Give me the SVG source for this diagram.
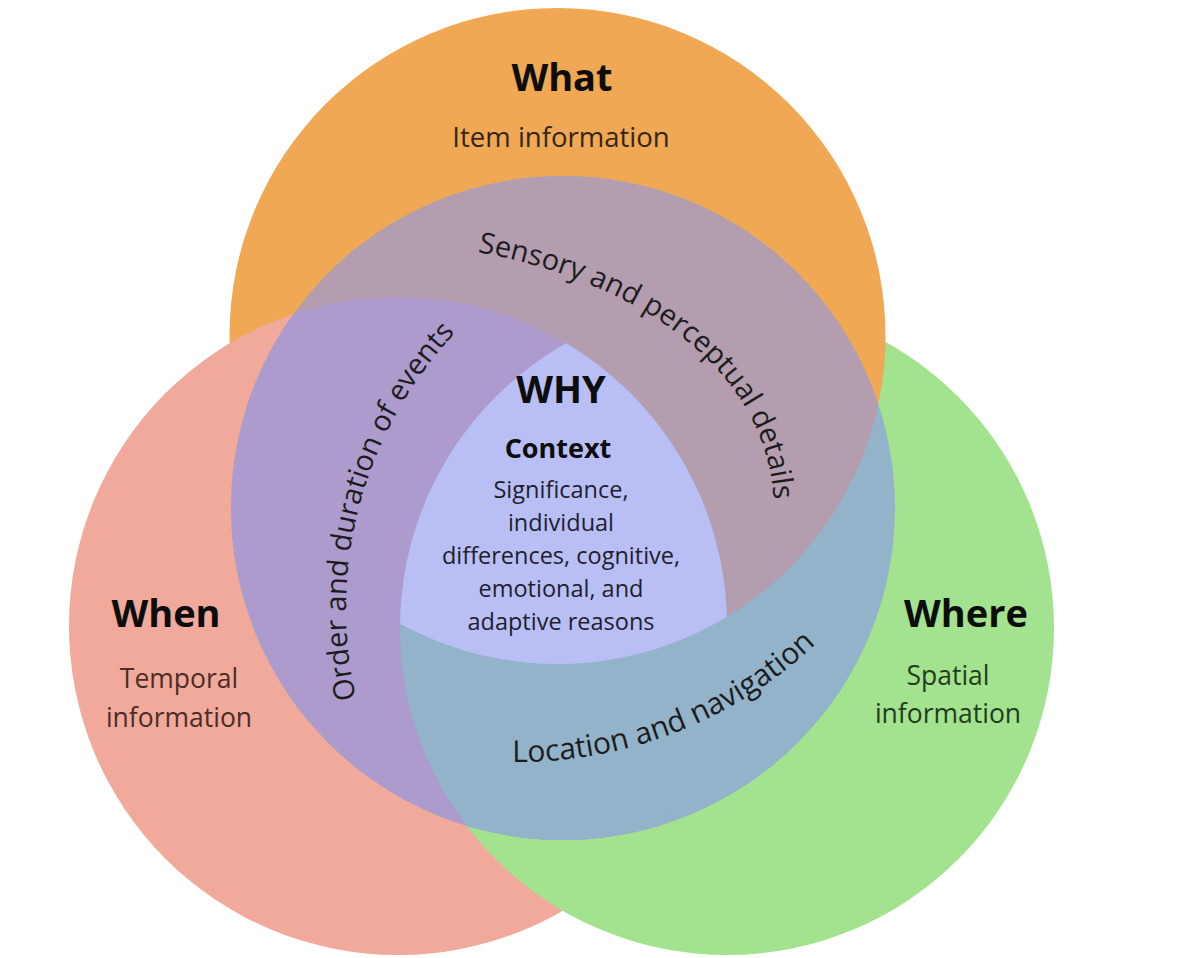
<svg xmlns="http://www.w3.org/2000/svg" xmlns:xlink="http://www.w3.org/1999/xlink" width="1200" height="958" viewBox="0 0 1200 958">
  <defs>
    <style>
      text { font-family: "Open Sans", "Noto Sans", "Liberation Sans", sans-serif; }
      .title { font-weight: 700; font-size: 38px; fill: #0d0d0d; text-anchor: middle; }
      .sub { font-size: 26.5px; text-anchor: middle; }
      .arc { font-size: 29px; fill: #1c1c1c; text-anchor: middle; }
      .ctx { font-size: 23.5px; fill: #1e1e2c; text-anchor: middle; }
      .what { fill: #F0A854; }
      .when { fill: #F0A99B; }
      .where { fill: #A3E28F; }
      .mauve { fill: #B39DAF; }
      .purple { fill: #AE9BCE; }
      .blue { fill: #92B3C9; }
      .whyfill { fill: #B9BEF5; }
    </style>
    <clipPath id="clipM"><circle cx="563" cy="508" r="332"/></clipPath>
    <clipPath id="clipP"><circle cx="398" cy="626" r="329"/></clipPath>
    <clipPath id="clipG"><circle cx="727" cy="628" r="327"/></clipPath>
    <path id="pSensory" d="M463,249 L483,253 C641,283.7 760,368 773,490 L777,530" fill="none"/>
    <path id="pOrder" d="M370.4,747.2 A404,404 0 0 1 490.3,299.5" fill="none"/>
    <path id="pLocation" d="M442.5,755.4 A435,435 0 0 0 860.8,594.8" fill="none"/>
  </defs>

  <rect x="0" y="0" width="1200" height="958" fill="#ffffff"/>

  <g id="where-circle">
    <circle class="where" cx="727" cy="628" r="327"/>
  </g>
  <g id="what-circle">
    <circle class="what" cx="557.5" cy="336" r="328"/>
  </g>
  <g id="when-circle">
    <circle class="when" cx="398" cy="626" r="329"/>
  </g>
  <g id="when-where-overlap" clip-path="url(#clipP)">
    <circle class="where" cx="727" cy="628" r="327"/>
  </g>

  <g id="middle-ring">
    <circle class="blue" cx="563" cy="508" r="332"/>
    <g clip-path="url(#clipM)">
      <circle class="mauve" cx="557.5" cy="336" r="328"/>
      <circle class="purple" cx="398" cy="626" r="329"/>
      <g clip-path="url(#clipP)">
        <circle class="blue" cx="727" cy="628" r="327"/>
      </g>
    </g>
  </g>

  <g id="why-center">
    <g clip-path="url(#clipP)">
      <g clip-path="url(#clipG)">
        <circle class="whyfill" cx="557.5" cy="336" r="328"/>
      </g>
    </g>
  </g>

  <g id="label-what">
    <text class="title" x="562" y="91">What</text>
    <text class="sub" x="561" y="146.5" style="font-size:27.5px" fill="#33261a">Item information</text>
  </g>
  <g id="label-when">
    <text class="title" x="166" y="627">When</text>
    <text class="sub" x="179" y="688" fill="#4b2d28">Temporal</text>
    <text class="sub" x="179" y="727" fill="#4b2d28">information</text>
  </g>
  <g id="label-where">
    <text class="title" x="966" y="627">Where</text>
    <text class="sub" x="948" y="685" fill="#223d1c">Spatial</text>
    <text class="sub" x="948" y="723" fill="#223d1c">information</text>
  </g>

  <g id="label-sensory">
    <text class="arc"><textPath href="#pSensory" xlink:href="#pSensory" startOffset="223">Sensory and perceptual details</textPath></text>
  </g>
  <g id="label-order">
    <text class="arc"><textPath href="#pOrder" xlink:href="#pOrder" startOffset="248">Order and duration of events</textPath></text>
  </g>
  <g id="label-location">
    <text class="arc" style="font-size:30px"><textPath href="#pLocation" xlink:href="#pLocation" startOffset="237">Location and navigation</textPath></text>
  </g>

  <g id="label-why">
    <text class="title" x="561" y="403">WHY</text>
    <text class="title" x="558" y="458" style="font-size:27px">Context</text>
    <text class="ctx" x="561" y="498">Significance,</text>
    <text class="ctx" x="561" y="531">individual</text>
    <text class="ctx" x="561" y="564">differences, cognitive,</text>
    <text class="ctx" x="561" y="597">emotional, and</text>
    <text class="ctx" x="561" y="630">adaptive reasons</text>
  </g>
</svg>
